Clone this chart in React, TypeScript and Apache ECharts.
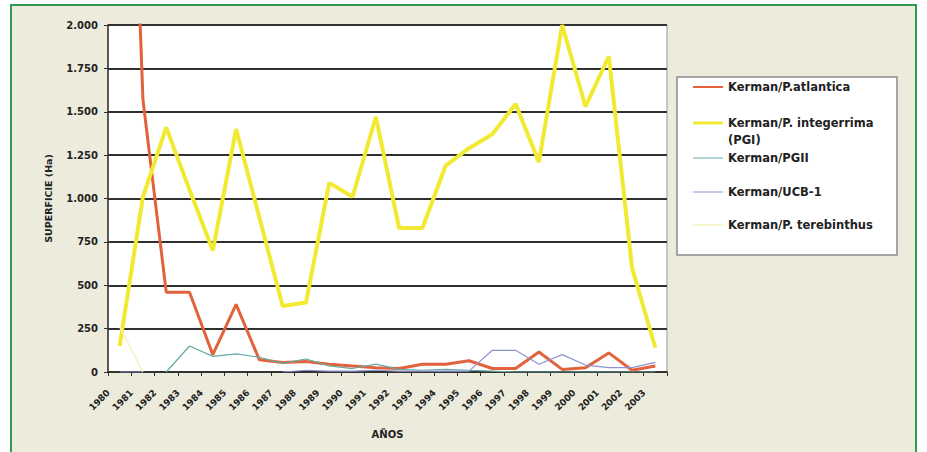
import React, { useEffect, useRef } from "react";
import * as echarts from "echarts";

const years = [
  "1980", "1981", "1982", "1983", "1984", "1985", "1986", "1987", "1988", "1989", "1990", "1991",
  "1992", "1993", "1994", "1995", "1996", "1997", "1998", "1999", "2000", "2001", "2002", "2003",
];

const atlantica = [5200, 1570, 460, 460, 100, 390, 70, 55, 60, 45, 35, 25, 20, 45, 45, 65, 20, 20, 115, 15, 25, 110, 10, 35];
const integerrima = [150, 1010, 1410, 1050, 700, 1400, 890, 380, 400, 1090, 1010, 1470, 830, 830, 1190, 1290, 1370, 1545, 1210, 2000, 1530, 1820, 600, 140];
const pgii = [null, null, 0, 150, 90, 105, 85, 50, 75, 35, 20, 45, 15, 10, 15, 10, 5, 0, 0, 0, 0, 0, 0, 0];
const ucb1 = [0, 0, null, null, null, null, null, 0, 10, 5, 5, 10, 5, 5, 5, 5, 125, 125, 45, 100, 40, 25, 25, 55];
const terebinthus = [260, 0, null, null, null, null, null, null, null, null, null, null, null, null, null, null, null, null, null, null, null, null, null, null];

const seriesNames = [
  "Kerman/P.atlantica",
  "Kerman/P. integerrima (PGI)",
  "Kerman/PGII",
  "Kerman/UCB-1",
  "Kerman/P. terebinthus",
];
const legendFirstLines = [
  "Kerman/P.atlantica",
  "Kerman/P. integerrima",
  "Kerman/PGII",
  "Kerman/UCB-1",
  "Kerman/P. terebinthus",
];
const legendSecondLine = "(PGI)";
const seriesData = [atlantica, integerrima, pgii, ucb1, terebinthus];
const seriesColors = ["#E2623C", "#F2EA32", "#63ABA5", "#8F92D0", "#F5F2BC"];
const seriesWidths = [3, 4, 1.2, 1.2, 1.5];
const legendWidths = [2, 3, 1, 1, 1.5];
const legendCenters = [87, 123, 158, 192, 225];

const FONT = "DejaVu Sans";

function fmt(v: number) {
  if (v >= 1000) {
    return Math.floor(v / 1000) + "." + String(v % 1000).padStart(3, "0");
  }
  return String(v);
}

export default function App() {
  const ref = useRef<HTMLDivElement>(null);
  useEffect(() => {
    const chart = echarts.init(ref.current!, null, { renderer: "svg" });
    const legendText = { fontFamily: FONT, fontSize: 11.5, fontWeight: "bold", color: "#222", lineHeight: 14 };
    const legends = seriesNames.map((name, i) => ({
      show: true,
      left: 693,
      top: legendCenters[i] - 7,
      padding: 0,
      orient: "vertical",
      icon: "rect",
      itemWidth: 30,
      itemHeight: legendWidths[i],
      itemGap: 0,
      selectedMode: false,
      itemStyle: { color: seriesColors[i], borderWidth: 0 },
      formatter: () => legendFirstLines[i],
      textStyle: legendText,
      data: [name],
    }));
    const option = {
      animation: false,
      backgroundColor: "transparent",
      grid: {
        left: 108,
        right: 260,
        top: 25,
        bottom: 80,
        show: true,
        backgroundColor: "#ffffff",
        borderColor: "#9a9a9a",
        borderWidth: 1,
        containLabel: false,
      },
      graphic: [
        {
          type: "rect",
          z: -1,
          shape: { x: 677, y: 77, width: 220, height: 178 },
          style: { fill: "#ffffff", stroke: "#8c8c8c", lineWidth: 1.5 },
        },
        {
          type: "text",
          z: 10,
          x: 728,
          y: 140,
          style: {
            text: legendSecondLine,
            fontFamily: FONT,
            fontSize: 11.5,
            fontWeight: "bold",
            fill: "#222",
            verticalAlign: "middle",
            align: "left",
          },
        },
      ],
      legend: legends,
      xAxis: {
        type: "category",
        data: years,
        boundaryGap: true,
        name: "AÑOS",
        nameLocation: "middle",
        nameGap: 57,
        nameTextStyle: { fontFamily: FONT, fontSize: 10, fontWeight: "bold", color: "#222" },
        axisLine: { show: true, lineStyle: { color: "#333", width: 1.5 } },
        axisTick: { show: true, interval: 0, length: 4, lineStyle: { color: "#333" } },
        axisLabel: {
          interval: 0,
          rotate: 45,
          margin: 8,
          padding: [0, 16, 0, 0],
          fontFamily: FONT,
          fontSize: 9,
          fontWeight: "bold",
          color: "#222",
        },
        splitLine: { show: false },
      },
      yAxis: {
        type: "value",
        min: 0,
        max: 2000,
        interval: 250,
        name: "SUPERFICIE (Ha)",
        nameLocation: "middle",
        nameGap: 55,
        nameTextStyle: { fontFamily: FONT, fontSize: 9.5, fontWeight: "bold", color: "#222" },
        axisLine: { show: true, lineStyle: { color: "#333", width: 1.5 } },
        axisTick: { show: true, length: 4, lineStyle: { color: "#333" } },
        axisLabel: {
          formatter: (v: number) => fmt(v),
          margin: 10,
          fontFamily: FONT,
          fontSize: 10,
          fontWeight: "bold",
          color: "#222",
        },
        splitLine: { show: true, lineStyle: { color: "#303030", width: 2 } },
      },
      series: seriesNames.map((name, i) => ({
        name,
        type: "line",
        data: seriesData[i],
        symbol: "none",
        clip: true,
        connectNulls: false,
        color: seriesColors[i],
        lineStyle: { color: seriesColors[i], width: seriesWidths[i] },
        z: 2 + i,
      })),
    };
    chart.setOption(option as any);
    return () => chart.dispose();
  }, []);

  return (
    <div style={{ position: "fixed", left: 0, top: 0, width: 927, height: 452, background: "#ffffff", overflow: "hidden" }}>
      <div
        style={{
          position: "absolute",
          left: 10,
          top: 4,
          width: 907,
          height: 470,
          boxSizing: "border-box",
          border: "2px solid #2F9A50",
          background: "#ECEBDC",
        }}
      />
      <div ref={ref} style={{ position: "absolute", left: 0, top: 0, width: 927, height: 452 }} />
    </div>
  );
}
